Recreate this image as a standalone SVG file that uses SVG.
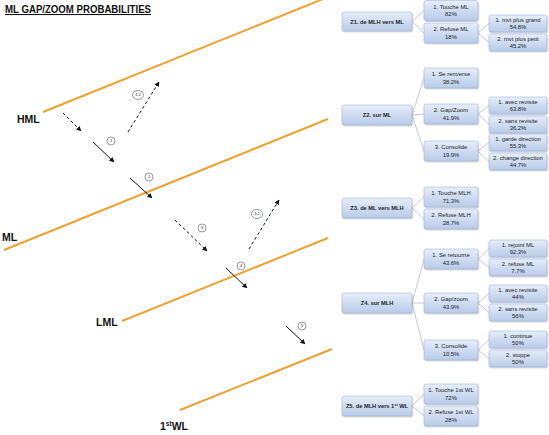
<svg xmlns="http://www.w3.org/2000/svg" width="549" height="435" viewBox="0 0 549 435">
<style>
.lvl{stroke:#f0a030;stroke-width:2;fill:none}
.arr{stroke:#111;stroke-width:1;fill:none;marker-end:url(#ah)}
.dash{stroke-dasharray:3,2.5}
.circ{fill:#fff;stroke:#555;stroke-width:0.6}
.ct{font-family:"Liberation Sans",Arial,sans-serif;font-size:4px;fill:#222;text-anchor:middle}
.lab{font-family:"Liberation Sans",Arial,sans-serif;font-size:10.5px;font-weight:bold;fill:#111}
.box{fill:url(#bg);stroke:#a2b6d8;stroke-width:0.6;filter:url(#sh)}
.bt{font-family:"Liberation Sans",Arial,sans-serif;font-size:5.9px;fill:#222;text-anchor:middle}
.rt{font-family:"Liberation Sans",Arial,sans-serif;font-size:5.7px;font-weight:bold;fill:#222;text-anchor:middle}
.con{stroke:#9aa6bb;stroke-width:0.6;fill:none}
</style>
<defs>
<linearGradient id="bg" x1="0" y1="0" x2="0" y2="1">
<stop offset="0" stop-color="#e6eef9"/>
<stop offset="1" stop-color="#b7cbe9"/>
</linearGradient>
<filter id="sh" x="-10%" y="-20%" width="130%" height="160%">
<feDropShadow dx="0.6" dy="1" stdDeviation="0.7" flood-color="#000" flood-opacity="0.25"/>
</filter>
<marker id="ah" viewBox="0 0 10 10" refX="9" refY="5" markerWidth="5" markerHeight="5" orient="auto" markerUnits="strokeWidth">
<path d="M0,0 L10,5 L0,10 z" fill="#111"/>
</marker>
</defs>
<rect width="549" height="435" fill="#fff"/>

<text x="5" y="13" class="lab" font-size="10" text-decoration="underline" textLength="146" lengthAdjust="spacingAndGlyphs">ML GAP/ZOOM PROBABILITIES</text>

<g id="levels">
<line class="lvl" x1="43" y1="112" x2="323" y2="-1"/>
<line class="lvl" x1="4" y1="250" x2="328" y2="119"/>
<line class="lvl" x1="122" y1="321" x2="328" y2="238"/>
<line class="lvl" x1="180" y1="410" x2="332" y2="349"/>
<text x="17" y="123" class="lab">HML</text>
<text x="2" y="241" class="lab">ML</text>
<text x="96" y="326" class="lab">LML</text>
<text x="160" y="430" class="lab">1<tspan font-size="6.5" dy="-4">st</tspan><tspan dy="4">WL</tspan></text>
</g>

<g id="moves">
<line class="arr dash" x1="63" y1="113" x2="81" y2="131"/>
<line class="arr" x1="93" y1="142" x2="114" y2="162"/>
<line class="arr dash" x1="128" y1="132" x2="159" y2="82"/>
<line class="arr" x1="130" y1="178" x2="152" y2="198"/>
<line class="arr dash" x1="175" y1="220" x2="207" y2="251"/>
<line class="arr dash" x1="249" y1="249" x2="279" y2="200"/>
<line class="arr" x1="226" y1="268" x2="247" y2="288"/>
<line class="arr" x1="286" y1="326" x2="305" y2="344"/>
</g>

<g id="markers">
<circle class="circ" cx="111" cy="141" r="4"/><text class="ct" x="111" y="142.4">1</text>
<ellipse class="circ" cx="138" cy="95" rx="5.5" ry="4.5"/><text class="ct" x="138" y="96.4">1.2</text>
<circle class="circ" cx="149" cy="177" r="4"/><text class="ct" x="149" y="178.4">2</text>
<circle class="circ" cx="202" cy="228" r="4"/><text class="ct" x="202" y="229.4">3</text>
<ellipse class="circ" cx="257" cy="214" rx="5.5" ry="4.5"/><text class="ct" x="257" y="215.4">3.2</text>
<circle class="circ" cx="241" cy="266" r="4"/><text class="ct" x="241" y="267.4">4</text>
<circle class="circ" cx="302" cy="326" r="4"/><text class="ct" x="302" y="327.4">5</text>
</g>

<g id="connectors">
<line class="con" x1="412" y1="21.5" x2="424" y2="10.5"/>
<line class="con" x1="412" y1="21.5" x2="424" y2="33"/>
<line class="con" x1="478" y1="33" x2="489" y2="23.5"/>
<line class="con" x1="478" y1="33" x2="489" y2="42.5"/>
<line class="con" x1="412" y1="115" x2="424" y2="78"/>
<line class="con" x1="412" y1="115" x2="424" y2="114"/>
<line class="con" x1="412" y1="115" x2="424" y2="151"/>
<line class="con" x1="478" y1="114" x2="489" y2="105.5"/>
<line class="con" x1="478" y1="114" x2="489" y2="124.5"/>
<line class="con" x1="478" y1="151" x2="489" y2="142.5"/>
<line class="con" x1="478" y1="151" x2="489" y2="161.5"/>
<line class="con" x1="412" y1="208" x2="424" y2="197"/>
<line class="con" x1="412" y1="208" x2="424" y2="219"/>
<line class="con" x1="412" y1="303" x2="424" y2="259"/>
<line class="con" x1="412" y1="303" x2="424" y2="303"/>
<line class="con" x1="412" y1="303" x2="424" y2="350"/>
<line class="con" x1="478" y1="259" x2="489" y2="248.5"/>
<line class="con" x1="478" y1="259" x2="489" y2="267.5"/>
<line class="con" x1="478" y1="303" x2="489" y2="293.5"/>
<line class="con" x1="478" y1="303" x2="489" y2="312.5"/>
<line class="con" x1="478" y1="350" x2="489" y2="339.5"/>
<line class="con" x1="478" y1="350" x2="489" y2="358.5"/>
<line class="con" x1="412" y1="406" x2="424" y2="394"/>
<line class="con" x1="412" y1="406" x2="424" y2="416"/>
</g>

<g id="z1"><rect class="box" x="342" y="12" width="70" height="19" rx="2"/><text class="rt" x="377" y="23.5">Z1. de MLH vers ML</text></g>
<g id="z1-1"><rect class="box" x="424" y="0.5" width="54" height="20" rx="2"/><text class="bt" x="451" y="8.5">1. Touche ML</text><text class="bt" x="451" y="16.3">82%</text></g>
<g id="z1-2"><rect class="box" x="424" y="23" width="54" height="20" rx="2"/><text class="bt" x="451" y="31">2. Refuse ML</text><text class="bt" x="451" y="38.8">18%</text></g>
<g id="z1-2-1"><rect class="box" x="489" y="15" width="58" height="17" rx="2"/><text class="bt" x="518" y="22">1. mvt plus grand</text><text class="bt" x="518" y="29.3">54.8%</text></g>
<g id="z1-2-2"><rect class="box" x="489" y="34" width="58" height="17" rx="2"/><text class="bt" x="518" y="41">2. mvt plus petit</text><text class="bt" x="518" y="48.3">45.2%</text></g>

<g id="z2"><rect class="box" x="342" y="105" width="70" height="20" rx="2"/><text class="rt" x="377" y="117">Z2. sur ML</text></g>
<g id="z2-1"><rect class="box" x="424" y="68" width="54" height="20" rx="2"/><text class="bt" x="451" y="76">1. Se renverse</text><text class="bt" x="451" y="83.8">38.2%</text></g>
<g id="z2-2"><rect class="box" x="424" y="104" width="54" height="20" rx="2"/><text class="bt" x="451" y="112">2. Gap/Zoom</text><text class="bt" x="451" y="119.8">41.9%</text></g>
<g id="z2-2-1"><rect class="box" x="489" y="97" width="58" height="17" rx="2"/><text class="bt" x="518" y="104">1. avec revisite</text><text class="bt" x="518" y="111.3">63.8%</text></g>
<g id="z2-2-2"><rect class="box" x="489" y="116" width="58" height="17" rx="2"/><text class="bt" x="518" y="123">2. sans revisite</text><text class="bt" x="518" y="130.3">36.2%</text></g>
<g id="z2-3"><rect class="box" x="424" y="141" width="54" height="20" rx="2"/><text class="bt" x="451" y="149">3. Consolide</text><text class="bt" x="451" y="156.8">19.9%</text></g>
<g id="z2-3-1"><rect class="box" x="489" y="134" width="58" height="17" rx="2"/><text class="bt" x="518" y="141">1. garde direction</text><text class="bt" x="518" y="148.3">55.3%</text></g>
<g id="z2-3-2"><rect class="box" x="489" y="153" width="58" height="17" rx="2"/><text class="bt" x="518" y="160">2. change direction</text><text class="bt" x="518" y="167.3">44.7%</text></g>

<g id="z3"><rect class="box" x="342" y="198" width="70" height="20" rx="2"/><text class="rt" x="377" y="210">Z3. de ML vers MLH</text></g>
<g id="z3-1"><rect class="box" x="424" y="187" width="54" height="20" rx="2"/><text class="bt" x="451" y="195">1. Touche MLH</text><text class="bt" x="451" y="202.8">71.3%</text></g>
<g id="z3-2"><rect class="box" x="424" y="209" width="54" height="20" rx="2"/><text class="bt" x="451" y="217">2. Refuse MLH</text><text class="bt" x="451" y="224.8">28.7%</text></g>

<g id="z4"><rect class="box" x="342" y="293" width="70" height="20" rx="2"/><text class="rt" x="377" y="305">Z4. sur MLH</text></g>
<g id="z4-1"><rect class="box" x="424" y="249" width="54" height="20" rx="2"/><text class="bt" x="451" y="257">1. Se retourne</text><text class="bt" x="451" y="264.8">43.6%</text></g>
<g id="z4-1-1"><rect class="box" x="489" y="240" width="58" height="17" rx="2"/><text class="bt" x="518" y="247">1. rejoint ML</text><text class="bt" x="518" y="254.3">92.3%</text></g>
<g id="z4-1-2"><rect class="box" x="489" y="259" width="58" height="17" rx="2"/><text class="bt" x="518" y="266">2. refuse ML</text><text class="bt" x="518" y="273.3">7.7%</text></g>
<g id="z4-2"><rect class="box" x="424" y="293" width="54" height="20" rx="2"/><text class="bt" x="451" y="301">2. Gap/zoom</text><text class="bt" x="451" y="308.8">43.9%</text></g>
<g id="z4-2-1"><rect class="box" x="489" y="285" width="58" height="17" rx="2"/><text class="bt" x="518" y="292">1. avec revisite</text><text class="bt" x="518" y="299.3">44%</text></g>
<g id="z4-2-2"><rect class="box" x="489" y="304" width="58" height="17" rx="2"/><text class="bt" x="518" y="311">2. sans revisite</text><text class="bt" x="518" y="318.3">56%</text></g>
<g id="z4-3"><rect class="box" x="424" y="340" width="54" height="20" rx="2"/><text class="bt" x="451" y="348">3. Consolide</text><text class="bt" x="451" y="355.8">10.5%</text></g>
<g id="z4-3-1"><rect class="box" x="489" y="331" width="58" height="17" rx="2"/><text class="bt" x="518" y="338">1. continue</text><text class="bt" x="518" y="345.3">50%</text></g>
<g id="z4-3-2"><rect class="box" x="489" y="350" width="58" height="17" rx="2"/><text class="bt" x="518" y="357">2. stoppe</text><text class="bt" x="518" y="364.3">50%</text></g>

<g id="z5"><rect class="box" x="342" y="396" width="70" height="20" rx="2"/><text class="rt" x="377" y="408">Z5. de MLH vers 1<tspan font-size="3.8" dy="-1.8">st</tspan><tspan dy="1.8"> WL</tspan></text></g>
<g id="z5-1"><rect class="box" x="424" y="384" width="54" height="20" rx="2"/><text class="bt" x="451" y="392">1. Touche 1st WL</text><text class="bt" x="451" y="399.8">72%</text></g>
<g id="z5-2"><rect class="box" x="424" y="406" width="54" height="20" rx="2"/><text class="bt" x="451" y="414">2. Refuse 1st WL</text><text class="bt" x="451" y="421.8">28%</text></g>
</svg>
